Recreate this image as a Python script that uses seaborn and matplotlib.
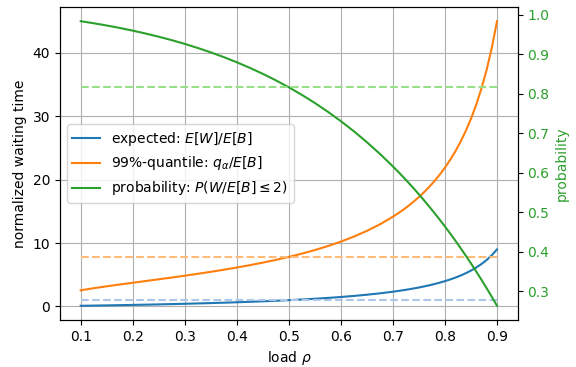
import matplotlib
matplotlib.use("Agg")
import matplotlib.pyplot as plt
import seaborn as sns
import pandas as pd

# load values
rho = [0.100, 0.125, 0.150, 0.175, 0.200, 0.225, 0.250, 0.275, 0.300, 0.325, 0.350,
       0.375, 0.400, 0.425, 0.450, 0.475, 0.500, 0.525, 0.550, 0.575, 0.600, 0.625,
       0.650, 0.675, 0.700, 0.710, 0.720, 0.730, 0.740, 0.750, 0.760, 0.770, 0.780,
       0.790, 0.800, 0.810, 0.820, 0.830, 0.840, 0.850, 0.860, 0.870, 0.880, 0.890,
       0.900]

# normalized mean waiting time E[W]/E[B]
expected = [0.1111, 0.1429, 0.1765, 0.2121, 0.2500, 0.2903, 0.3333, 0.3793, 0.4286,
            0.4815, 0.5385, 0.6000, 0.6667, 0.7391, 0.8182, 0.9048, 1.0000, 1.1053,
            1.2222, 1.3529, 1.5000, 1.6667, 1.8571, 2.0769, 2.3333, 2.4483, 2.5714,
            2.7037, 2.8462, 3.0000, 3.1667, 3.3478, 3.5455, 3.7619, 4.0000, 4.2632,
            4.5556, 4.8824, 5.2500, 5.6667, 6.1429, 6.6923, 7.3333, 8.0909, 9.0000]

# normalized 99%-quantile of the waiting time
quantile = [2.558, 2.887, 3.186, 3.469, 3.745, 4.017, 4.292, 4.571, 4.859, 5.157,
            5.470, 5.799, 6.148, 6.521, 6.921, 7.354, 7.824, 8.339, 8.905, 9.534,
            10.236, 11.027, 11.927, 12.960, 14.162, 14.699, 15.274, 15.891, 16.554,
            17.270, 18.045, 18.886, 19.803, 20.807, 21.910, 23.129, 24.482, 25.993,
            27.692, 29.618, 31.817, 34.353, 37.311, 40.806, 44.998]

# probability P(W/E[B] <= 2)
probability = [0.9835, 0.9783, 0.9726, 0.9664, 0.9596, 0.9522, 0.9442, 0.9355,
               0.9260, 0.9157, 0.9046, 0.8926, 0.8795, 0.8654, 0.8502, 0.8338,
               0.8161, 0.7970, 0.7764, 0.7542, 0.7304, 0.7048, 0.6772, 0.6476,
               0.6158, 0.6025, 0.5887, 0.5746, 0.5601, 0.5451, 0.5297, 0.5139,
               0.4976, 0.4809, 0.4637, 0.4461, 0.4279, 0.4092, 0.3900, 0.3703,
               0.3500, 0.3292, 0.3078, 0.2858, 0.2631]

# reference levels at rho = 0.5
ref_rho = [0.1, 0.9]
ref_expected = [1.0, 1.0]
ref_quantile = [7.824, 7.824]
ref_probability = [0.8161, 0.8161]

df = pd.DataFrame({"rho": rho, "expected": expected,
                   "quantile": quantile, "probability": probability})
ref = pd.DataFrame({"rho": ref_rho, "expected": ref_expected,
                    "quantile": ref_quantile, "probability": ref_probability})

plt.rcParams.update(plt.rcParamsDefault)
fig, ax = plt.subplots(figsize=(5.76, 3.67), dpi=100)
fig.subplots_adjust(left=0.104, right=0.899, top=0.981, bottom=0.128)

sns.lineplot(data=df, x="rho", y="expected", ax=ax, color="tab:blue",
             label=r"expected: $E[W]/E[B]$", legend=False)
sns.lineplot(data=df, x="rho", y="quantile", ax=ax, color="tab:orange",
             label=r"99%-quantile: $q_\alpha/E[B]$", legend=False)
sns.lineplot(data=ref, x="rho", y="expected", ax=ax, color="#aec7e8",
             linestyle="--", legend=False)
sns.lineplot(data=ref, x="rho", y="quantile", ax=ax, color="#ffbb78",
             linestyle="--", legend=False)
ax.grid(True)
ax.set_xlabel(r"load $\rho$")
ax.set_ylabel("normalized waiting time")
ax.set_xticks([0.1, 0.2, 0.3, 0.4, 0.5, 0.6, 0.7, 0.8, 0.9])

ax2 = ax.twinx()
sns.lineplot(data=df, x="rho", y="probability", ax=ax2, color="tab:green",
             label=r"probability: $P(W/E[B] \leq 2)$", legend=False)
sns.lineplot(data=ref, x="rho", y="probability", ax=ax2, color="#98df8a",
             linestyle="--", legend=False)
ax2.set_ylabel("probability", color="tab:green")
ax2.tick_params(axis="y", labelcolor="tab:green")

h1, l1 = ax.get_legend_handles_labels()
h2, l2 = ax2.get_legend_handles_labels()
ax2.legend(h1 + h2, l1 + l2, loc="center left")

fig.savefig("out.png", dpi=100)
